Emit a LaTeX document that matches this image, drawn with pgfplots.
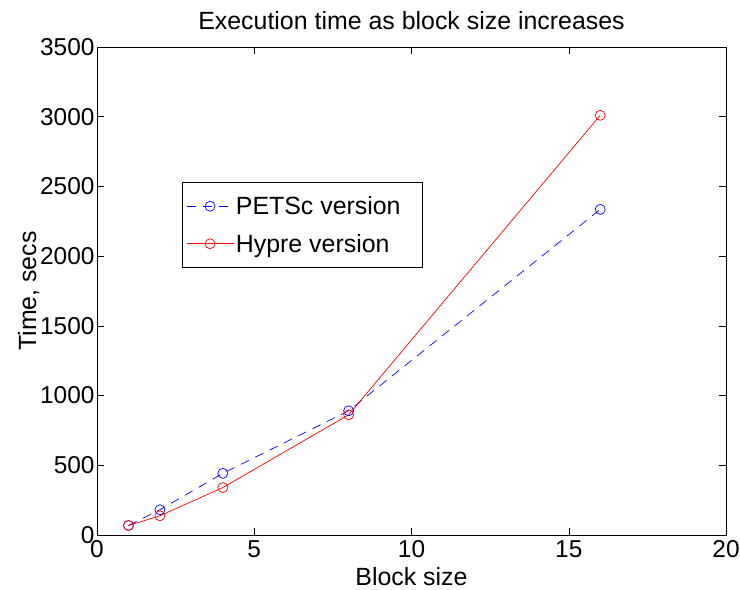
\documentclass[border=0pt]{standalone}
\usepackage{fontspec}
\setmainfont{Liberation Sans}
\usepackage{pgfplots}
\pgfplotsset{compat=1.18}
\begin{document}
\begin{tikzpicture}[x=1bp,y=1bp]
\path[use as bounding box] (-97,-55) rectangle (643,535);
\begin{axis}[
    at={(0,0)}, anchor=south west,
    scale only axis,
    width=629bp, height=488bp,
    xmin=0, xmax=20, ymin=0, ymax=3500,
    xtick={0,5,10,15,20},
    ytick={0,500,1000,1500,2000,2500,3000,3500},
    tick align=inside,
    major tick length=7bp,
    tick style={black, line width=0.5pt},
    axis line style={line width=0.8pt},
    font=\fontsize{25}{29}\selectfont,
    tick label style={font=\fontsize{24.5}{28}\selectfont},
    /pgf/number format/assume math mode=true,
    /pgf/number format/1000 sep={},
    xticklabel style={yshift=-2bp},
    yticklabel style={xshift=1bp},
    title={Execution time as block size increases},
    title style={yshift=8bp},
    xlabel={Block size},
    ylabel={Time, secs},
    xlabel style={yshift=-3bp},
    ylabel style={yshift=-6bp},
    legend cell align=left,
    legend style={at={(0.135,0.723)}, anchor=north west,
        draw=black, line width=0.6pt, inner xsep=4bp, inner ysep=12bp,
        font=\fontsize{25}{29}\selectfont,
        row sep=14bp},
    legend image code/.code={
        \draw[#1] (0bp,0bp) -- (47bp,0bp);
        \path[#1, solid] plot coordinates {(23.5bp,0bp)};
    },
]
\addplot[blue, dashed, dash pattern=on 9bp off 7bp, line width=0.7pt,
    mark=o, mark size=5bp, mark options={solid, line width=0.7pt}]
    coordinates {(1,68)(2,181)(4,442)(8,891)(16,2335)};
\addlegendentry{PETSc version\hspace*{16bp}}
\addplot[red, line width=0.7pt,
    mark=o, mark size=5bp, mark options={solid, line width=0.7pt}]
    coordinates {(1,68)(2,138)(4,340)(8,862)(16,3010)};
\addlegendentry{Hypre version}
\end{axis}
\end{tikzpicture}
\end{document}
